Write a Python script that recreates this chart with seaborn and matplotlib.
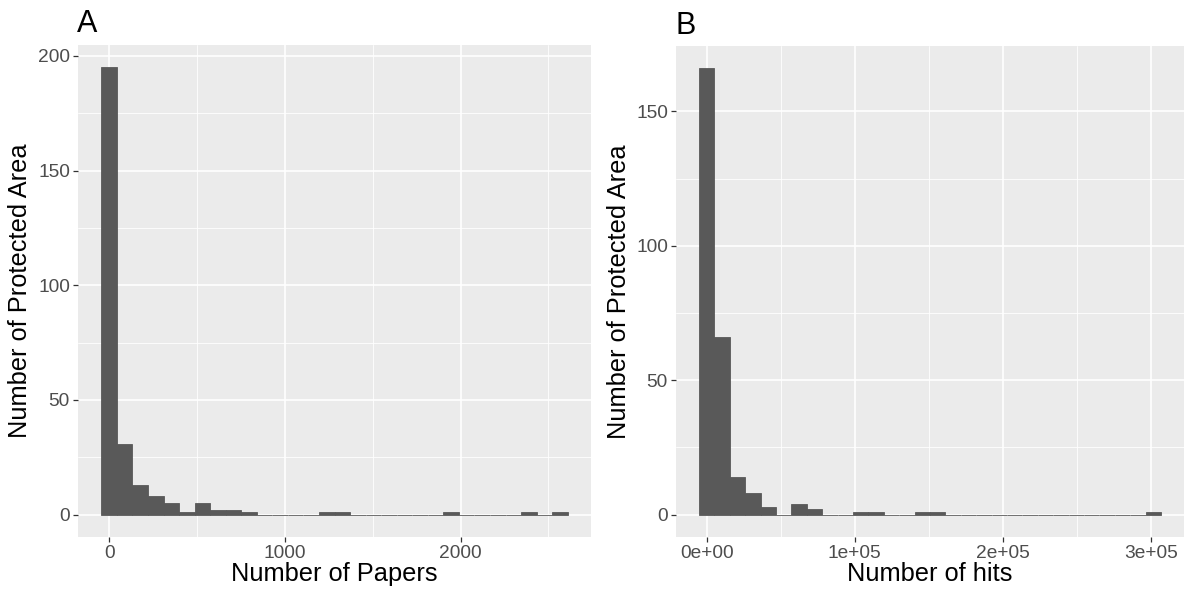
import numpy as np
import pandas as pd
import matplotlib
matplotlib.use("Agg")
import matplotlib.pyplot as plt
from matplotlib.ticker import FixedLocator
import seaborn as sns

# ---- data (counts per histogram bin, 30 bins each) ----
papers_binwidth = 88.45
papers_counts = [195, 31, 13, 8, 5, 1, 5, 2, 2, 1,
                 0, 0, 0, 0, 1, 1, 0, 0, 0, 0,
                 0, 0, 1, 0, 0, 0, 0, 1, 0, 1]

hits_binwidth = 10400
hits_counts = [166, 66, 14, 8, 3, 0, 4, 2, 0, 0,
               1, 1, 0, 0, 1, 1, 0, 0, 0, 0,
               0, 0, 0, 0, 0, 0, 0, 0, 0, 1]

papers_ticks = [0, 1000, 2000]
papers_ticklabels = ["0", "1000", "2000"]
hits_ticks = [0, 100000, 200000, 300000]
hits_ticklabels = ["0e+00", "1e+05", "2e+05", "3e+05"]

sns.set_theme(style="white")
plt.rcParams['font.family'] = ['Liberation Sans', 'DejaVu Sans']

BG = "#EBEBEB"
BAR = "#595959"
TICKC = "#4D4D4D"

fig = plt.figure(figsize=(11.9, 5.91), dpi=100)
W, H = 1190, 591
axA = fig.add_axes([78 / W, (H - 537) / H, (591 - 78) / W, (537 - 45) / H])
axB = fig.add_axes([676 / W, (H - 537) / H, (1184 - 676) / W, (537 - 46) / H])


def make_df(counts, bw):
    edges = np.arange(len(counts) + 1) * bw - bw / 2
    centers = (edges[:-1] + edges[1:]) / 2
    return pd.DataFrame({"x": centers, "n": counts}), edges


def style(ax, xmajor, xminor, ymajor, yminor, xlim, ylim):
    ax.set_facecolor(BG)
    for s in ax.spines.values():
        s.set_visible(False)
    ax.set_xlim(*xlim)
    ax.set_ylim(*ylim)
    ax.xaxis.set_major_locator(FixedLocator(xmajor))
    ax.xaxis.set_minor_locator(FixedLocator(xminor))
    ax.yaxis.set_major_locator(FixedLocator(ymajor))
    ax.yaxis.set_minor_locator(FixedLocator(yminor))
    ax.grid(which="major", color="white", linewidth=1.2)
    ax.grid(which="minor", color="white", linewidth=0.6)
    ax.set_axisbelow(True)
    ax.tick_params(which="major", length=3.8, width=0.9, color="#333333",
                   labelsize=13.8, labelcolor=TICKC, pad=2, direction="out",
                   bottom=True, left=True)
    ax.tick_params(which="minor", length=0)


dfA, edgesA = make_df(papers_counts, papers_binwidth)
sns.histplot(data=dfA, x="x", weights="n", binwidth=papers_binwidth,
             binrange=(edgesA[0], edgesA[-1]), ax=axA, color=BAR,
             alpha=1, edgecolor=BAR, linewidth=0.6)
spanA = edgesA[-1] - edgesA[0]
style(axA, papers_ticks, [500, 1500, 2500], [0, 50, 100, 150, 200],
      [25, 75, 125, 175],
      (edgesA[0] - 0.05 * spanA, edgesA[-1] + 0.05 * spanA),
      (-0.05 * 195, 195 * 1.05))
axA.set_xticklabels(papers_ticklabels)
axA.set_xlabel("Number of Papers", fontsize=18.3, color="black", labelpad=0)
axA.set_ylabel("Number of Protected Area", fontsize=18.3, color="black", labelpad=4)

dfB, edgesB = make_df(hits_counts, hits_binwidth)
sns.histplot(data=dfB, x="x", weights="n", binwidth=hits_binwidth,
             binrange=(edgesB[0], edgesB[-1]), ax=axB, color=BAR,
             alpha=1, edgecolor=BAR, linewidth=0.6)
spanB = edgesB[-1] - edgesB[0]
style(axB, hits_ticks, [50000, 150000, 250000], [0, 50, 100, 150],
      [25, 75, 125],
      (edgesB[0] - 0.05 * spanB, edgesB[-1] + 0.05 * spanB),
      (-0.05 * 166, 166 * 1.05))
axB.set_xticklabels(hits_ticklabels)
axB.set_xlabel("Number of hits", fontsize=18.3, color="black", labelpad=0)
axB.set_ylabel("Number of Protected Area", fontsize=18.3, color="black", labelpad=4)

fig.text(77 / W, 1 - 32 / H, "A", fontsize=22, ha="left", va="baseline", color="black")
fig.text(676 / W, 1 - 34 / H, "B", fontsize=22, ha="left", va="baseline", color="black")

fig.savefig("out.png", dpi=100)
